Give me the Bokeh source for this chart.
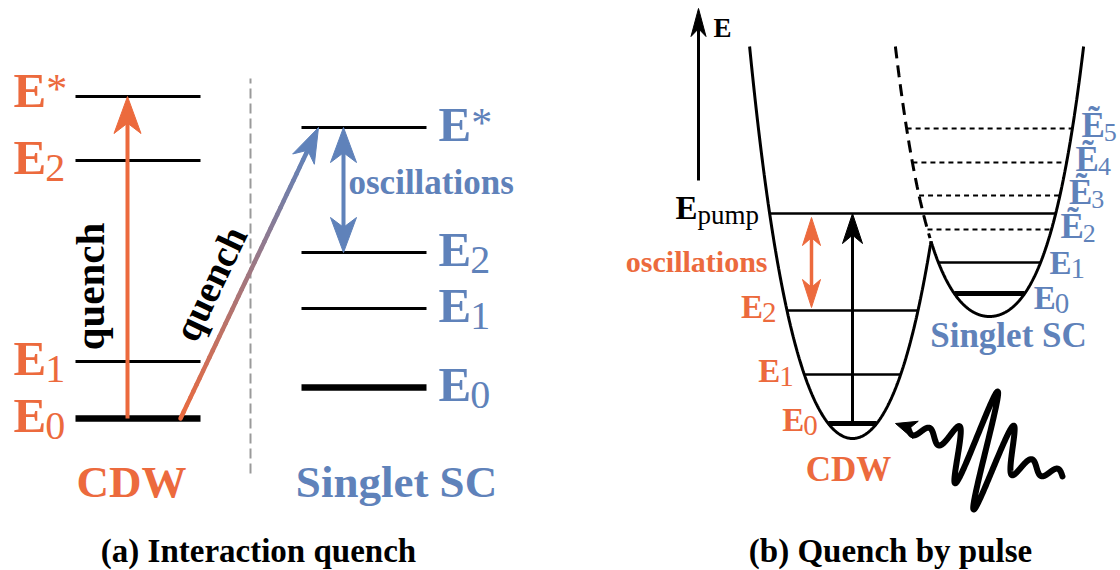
import numpy as np
from bokeh.plotting import figure
from bokeh.models import Range1d
from bokeh.core.properties import value
from bokeh.embed import file_html
from bokeh.resources import INLINE

ORANGE = "#EC6A3D"
BLUE = "#5F82BA"
GRAY = "#9A9A9A"
BLACK = "#000000"
FONT = value("Liberation Serif")

# ---------------- data: panel (a) energy levels (arbitrary energy units) ----------------
a_cdw_labels = ["0", "1", "2", "*"]
a_cdw_energy = [144, 201, 402, 466]
a_sc_labels = ["0", "1", "2", "*"]
a_sc_energy = [175, 254, 310, 435]

# ---------------- data: panel (b) ----------------
b_cdw_labels = ["0", "1", "2"]
b_cdw_energy = [139, 188, 252]
b_sc_labels = ["0", "1"]
b_sc_energy = [269, 300]
b_tilde_labels = ["2", "3", "4", "5"]
b_tilde_energy = [333, 367, 400, 434]
b_pump_energy = 349
well_top_energy = 516
# potential wells: centre, minimum, quadratic and quartic coefficients
cdw_well = dict(x0=852.0, e0=124.0, a=0.02494, b=1.141e-6)
sc_well = dict(x0=989.0, e0=246.0, a=0.01662, b=1.565e-6)
# light pulse (wave packet) parameters
pulse_wavelength = 27.0
pulse_amplitude = 58.0
pulse_floor = 6.0

captions = ["(a) Interaction quench", "(b) Quench by pulse"]

p = figure(width=1120, height=570, x_range=Range1d(0, 1120), y_range=Range1d(-8, 562),
           x_axis_type=None, y_axis_type=None, toolbar_location=None,
           output_backend="svg", min_border=0)
p.grid.visible = False
p.outline_line_color = None
p.background_fill_color = "white"
p.border_fill_color = "white"

# empirical correction of the renderer's vertical text anchoring (fraction of font size)
BASE_SHIFT = {"alphabetic": 0.37, "middle": 0.24}


def txt(x, y, s, size, color=BLACK, bold=True, align="left", baseline="alphabetic", angle=0.0):
    k = BASE_SHIFT.get(baseline, 0.0) * size
    x = x - np.sin(angle) * k
    y = y + np.cos(angle) * k
    p.text(x=[x], y=[y], text=[s], text_font=FONT, text_font_size=f"{size}px",
           text_font_style="bold" if bold else "normal", text_color=color,
           text_align=align, text_baseline=baseline, angle=angle)


def head(tip, direction, length, width, color):
    d = np.asarray(direction, float)
    d = d / np.linalg.norm(d)
    n = np.array([-d[1], d[0]])
    T = np.asarray(tip, float)
    pts = [T, T - length * d + width / 2 * n, T - 0.72 * length * d, T - length * d - width / 2 * n]
    p.patch([q[0] for q in pts], [q[1] for q in pts], fill_color=color, line_color=color, line_width=1)


def arrow(start, tip, color, lw, length, width):
    s = np.asarray(start, float)
    t = np.asarray(tip, float)
    d = (t - s) / np.linalg.norm(t - s)
    end = t - 0.6 * length * d
    p.line([s[0], end[0]], [s[1], end[1]], line_color=color, line_width=lw)
    head(t, d, length, width, color)


def dbl_arrow(a, b, color, lw, length, width):
    a = np.asarray(a, float)
    b = np.asarray(b, float)
    d = (b - a) / np.linalg.norm(b - a)
    s = a + 0.6 * length * d
    e = b - 0.6 * length * d
    p.line([s[0], e[0]], [s[1], e[1]], line_color=color, line_width=lw)
    head(b, d, length, width, color)
    head(a, -d, length, width, color)


def elabel(x, base, sub, color, size, subsize, sub_drop, tilde=False):
    main = "\u1EBC" if tilde else "E"
    txt(x, base, main, size, color, bold=True)
    w = 0.667 * size
    if sub == "*":
        txt(x + w, base + 0.09 * size, "*", int(subsize * 1.05), color, bold=False)
    else:
        txt(x + w - 1, base - sub_drop, sub, subsize, color, bold=False)


# =========================== panel (a) ===========================
ax_cdw = (75, 200)
ax_sc = (301, 426)
for e, lab in zip(a_cdw_energy, a_cdw_labels):
    p.line(list(ax_cdw), [e, e], line_color=BLACK, line_width=6.5 if lab == "0" else 3)
    elabel(13, e - 15 if lab != "*" else e - 12, lab, ORANGE, 49, 40, 7)
for e, lab in zip(a_sc_energy, a_sc_labels):
    p.line(list(ax_sc), [e, e], line_color=BLACK, line_width=6.5 if lab == "0" else 3)
    elabel(438, e - 15, lab, BLUE, 49, 40, 7)

# separator
p.line([250, 250], [89, 484], line_color=GRAY, line_width=2, line_dash="10 5")

e0a = a_cdw_energy[0]
estar_cdw = a_cdw_energy[3]
estar_sc = a_sc_energy[3]
e2_sc = a_sc_energy[2]

# vertical quench arrow (orange)
arrow((127, e0a), (127, estar_cdw), ORANGE, 4, 37, 27)
txt(99, 276, "quench", 41, BLACK, align="center", baseline="middle", angle=np.pi / 2)

# gradient quench arrow (orange -> blue)
start = np.array([180.0, e0a])
tip = np.array([318.0, estar_sc])
dvec = (tip - start) / np.linalg.norm(tip - start)
end = tip - 0.6 * 35 * dvec
c0 = np.array([236, 106, 61])
c1 = np.array([95, 130, 186])
nseg = 40
ts = np.linspace(0, 1, nseg + 1)
xs0 = start[0] + (end[0] - start[0]) * ts[:-1]
ys0 = start[1] + (end[1] - start[1]) * ts[:-1]
xs1 = start[0] + (end[0] - start[0]) * ts[1:]
ys1 = start[1] + (end[1] - start[1]) * ts[1:]
cols = []
for t in (ts[:-1] + ts[1:]) / 2:
    c = (1 - t) * c0 + t * c1
    cols.append("#%02x%02x%02x" % tuple(int(round(v)) for v in c))
p.segment(x0=xs0, y0=ys0, x1=xs1, y1=ys1, line_color=cols, line_width=4.5, line_cap="round")
head(tip, dvec, 35, 24, BLUE)
ang = np.arctan2(tip[1] - start[1], tip[0] - start[0])
txt(218, 275, "quench", 39, BLACK, align="center", baseline="middle", angle=ang)

# oscillations (blue)
dbl_arrow((343, e2_sc), (343, estar_sc), BLUE, 4, 35, 26)
txt(348, 367, "oscillations", 35, BLUE)

txt(131, 64, "CDW", 45, ORANGE, align="center")
txt(396, 64, "Singlet SC", 45, BLUE, align="center")

# =========================== panel (b) ===========================
def well_e(w, x):
    d = np.asarray(x, float) - w["x0"]
    return w["e0"] + w["a"] * d ** 2 + w["b"] * d ** 4


def halfwidth(w, e):
    depth = e - w["e0"]
    u = (-w["a"] + np.sqrt(w["a"] ** 2 + 4 * w["b"] * depth)) / (2 * w["b"])
    return np.sqrt(u)


# cusp where the two wells meet
lo, hi = cdw_well["x0"], sc_well["x0"]
for _ in range(60):
    mid = 0.5 * (lo + hi)
    if well_e(cdw_well, mid) < well_e(sc_well, mid):
        lo = mid
    else:
        hi = mid
xc = 0.5 * (lo + hi)

xl = cdw_well["x0"] - halfwidth(cdw_well, well_top_energy)
xs = np.linspace(xl, xc, 400)
p.line(xs, well_e(cdw_well, xs), line_color=BLACK, line_width=3)
xr = sc_well["x0"] + halfwidth(sc_well, well_top_energy)
xs = np.linspace(xc, xr, 400)
p.line(xs, well_e(sc_well, xs), line_color=BLACK, line_width=3)
xd = sc_well["x0"] - halfwidth(sc_well, well_top_energy)
xs = np.linspace(xd, xc - 1, 200)
p.line(xs, well_e(sc_well, xs), line_color=BLACK, line_width=3, line_dash="12 7")

# CDW levels
for e, lab in zip(b_cdw_energy, b_cdw_labels):
    hw = halfwidth(cdw_well, e)
    x0 = cdw_well["x0"] - hw
    p.line([x0, cdw_well["x0"] + hw], [e, e], line_color=BLACK, line_width=5 if lab == "0" else 2.4)
    elabel(x0 - 46, e - 9, lab, ORANGE, 33, 29, 4)

# SC levels
for e, lab in zip(b_sc_energy, b_sc_labels):
    hw = halfwidth(sc_well, e)
    x1 = sc_well["x0"] + hw
    p.line([sc_well["x0"] - hw, x1], [e, e], line_color=BLACK, line_width=5 if lab == "0" else 2.4)
    elabel(x1 + 9, e - (17 if lab == "0" else 13), lab, BLUE, 33, 29, 4)

# tilde levels (dotted)
for e, lab in zip(b_tilde_energy, b_tilde_labels):
    hw = halfwidth(sc_well, e)
    x1 = sc_well["x0"] + hw
    p.line([sc_well["x0"] - hw, x1], [e, e], line_color=BLACK, line_width=2.2, line_dash="5 4")
    elabel(x1 + 9, e - 10, lab, BLUE, 35, 26, 4, tilde=True)

# pump level
xp0 = cdw_well["x0"] - halfwidth(cdw_well, b_pump_energy)
xp1 = sc_well["x0"] + halfwidth(sc_well, b_pump_energy)
p.line([xp0, xp1], [b_pump_energy, b_pump_energy], line_color=BLACK, line_width=2.4)
txt(675, b_pump_energy - 7, "E", 33, BLACK)
txt(697, b_pump_energy - 11, "pump", 27, BLACK, bold=False)

# pump arrow and oscillation arrow
arrow((cdw_well["x0"], b_cdw_energy[0]), (cdw_well["x0"], b_pump_energy), BLACK, 3, 30, 20)
dbl_arrow((811, b_cdw_energy[2] + 3), (811, b_pump_energy - 4), ORANGE, 3.5, 28, 18)
txt(767, 290, "oscillations", 30, ORANGE, align="right")

# energy axis
arrow((698, 382), (698, 554), BLACK, 3, 28, 15)
txt(713, 525, "E", 27, BLACK)

txt(848, 80, "CDW", 35, ORANGE, align="center")
txt(1008, 214, "Singlet SC", 35, BLUE, align="center")

# light pulse
A = np.array([1062.0, 86.0])
B = np.array([895.0, 139.0])
L = np.linalg.norm(B - A)
dv = (B - A) / L
nv = np.array([dv[1], -dv[0]])
s = np.linspace(0, L - 14, 900)
env = pulse_floor + pulse_amplitude * np.exp(-((s - 0.47 * L) / (0.14 * L)) ** 2)
disp = env * np.sin(2 * np.pi * s / pulse_wavelength)
px = A[0] + s * dv[0] + disp * nv[0]
py = A[1] + s * dv[1] + disp * nv[1]
p.line(px, py, line_color=BLACK, line_width=6, line_join="round", line_cap="round")
head(B, dv, 21, 18, BLACK)

# captions
txt(258, -1, captions[0], 33, BLACK, align="center")
txt(890, -1, captions[1], 33, BLACK, align="center")

open("out.html", "w").write(file_html(p, INLINE))
